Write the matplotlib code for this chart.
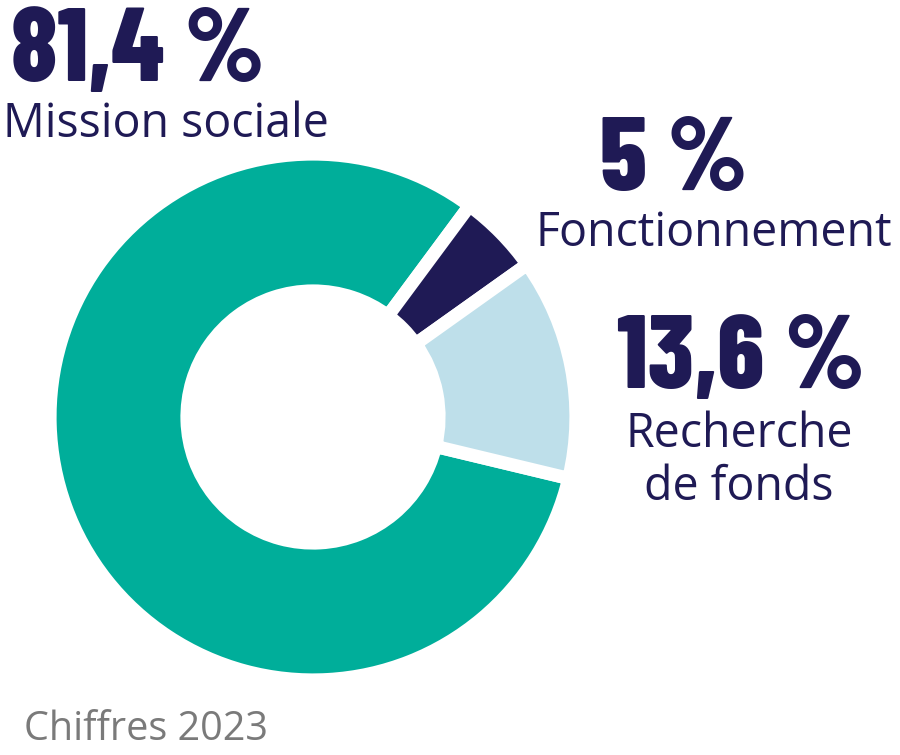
import matplotlib.pyplot as plt

# Values
labels = ['Mission sociale', 'Fonctionnement', 'Recherche\nde fonds']
pct_labels = ['81,4 %', '5 %', '13,6 %']
values = [81.4, 5.0, 13.6]
colors = ['#00AE9A', '#1F1A55', '#BEDFEA']

navy = '#1F1A55'
pct_font = ['Barlow Condensed', 'DejaVu Sans']
lab_font = ['Open Sans', 'DejaVu Sans']

fig = plt.figure(figsize=(9, 7.55), dpi=100)
ax = fig.add_axes([0, 0, 1, 1])

# pixel-like coordinates, y up
ax.pie(values, colors=colors, startangle=-13.5, counterclock=False,
       center=(313, 755 - 417), radius=263,
       wedgeprops=dict(width=137, edgecolor='white', linewidth=9.5))

ax.set_xlim(0, 900)
ax.set_ylim(0, 755)
ax.set_aspect('equal')
ax.axis('off')

pct_kw = dict(fontsize=75, fontweight=800, family=pct_font, color=navy, va='baseline')
lab_kw = dict(fontsize=33.5, family=lab_font, color=navy, va='baseline')

# percentages
ax.text(11, 755 - 81, pct_labels[0], ha='left', **pct_kw)
ax.text(600, 755 - 190, pct_labels[1], ha='left', **pct_kw)
ax.text(741, 755 - 388, pct_labels[2], ha='center', **pct_kw)

# category labels
ax.text(3, 755 - 137, labels[0], ha='left', **lab_kw)
ax.text(536, 755 - 246, labels[1], ha='left', **lab_kw)
for i, line in enumerate(labels[2].split('\n')):
    ax.text(739, 755 - 447 - 53 * i, line, ha='center', **lab_kw)

ax.text(24, 755 - 740, 'Chiffres 2023', fontsize=28.5,
        family=lab_font, color='#7A7A7A', ha='left', va='baseline')

fig.savefig('out.png', dpi=100)
